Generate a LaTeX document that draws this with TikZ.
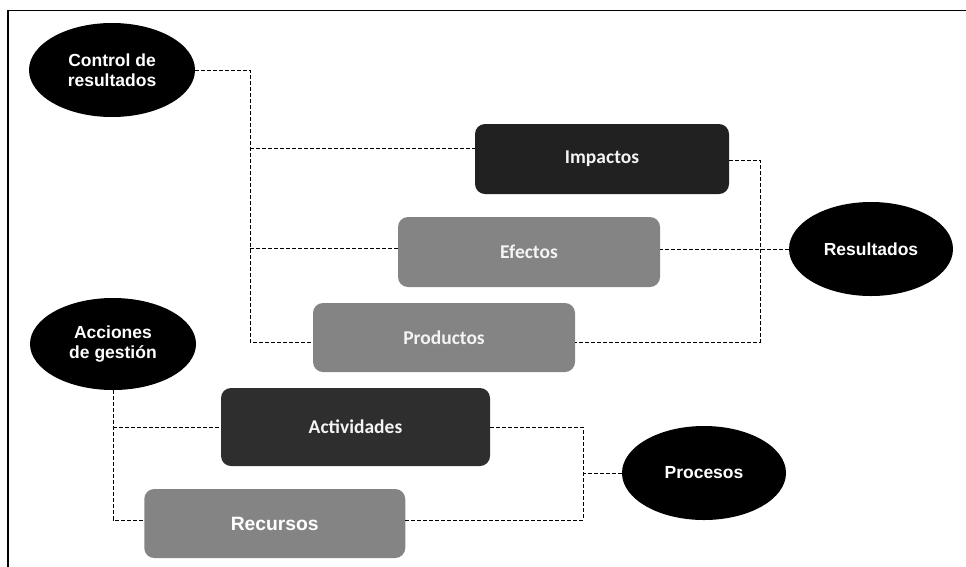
\documentclass[tikz,border=0pt]{standalone}
\usepackage{fontspec}
\setmainfont{Liberation Sans}
\newfontfamily\calibrifont{Carlito}
\usetikzlibrary{shapes.geometric}
\definecolor{darkbox}{HTML}{212121}
\definecolor{darkbox2}{HTML}{2E2E2E}
\definecolor{graybox}{HTML}{848484}
\definecolor{boxtext}{HTML}{F4F4F4}
\tikzset{
  oval/.style={ellipse, fill=black, text=white, inner sep=0pt, align=center,
    font=\bfseries\fontsize{17.5}{19.5}\selectfont},
  rbox/.style={rectangle, rounded corners=10pt, inner sep=0pt, text=boxtext,
    font=\calibrifont\bfseries\fontsize{19.5}{21}\selectfont},
  dl/.style={draw=black, line width=1pt, dash pattern=on 4pt off 2pt},
  frameline/.style={draw=black, line width=1.5pt}
}
\begin{document}
\begin{tikzpicture}[x=1pt,y=-1pt]
\useasboundingbox (0,0) rectangle (966,566);
% frame
\coordinate (fTL) at (8,10.5);
\coordinate (fTR) at (967,10.5);
\coordinate (fBL) at (8,567);
\draw[frameline] (fTR) -- (fTL) -- (fBL);

% ellipses
\node[oval, minimum width=166pt, minimum height=94pt] (ctrl) at (112,70) {Control de\\resultados};
\node[oval, minimum width=164pt, minimum height=94pt] (res) at (871,249) {Resultados};
\node[oval, minimum width=166pt, minimum height=92pt] (acc) at (113,344) {Acciones\\de gesti\'on};
\node[oval, minimum width=164pt, minimum height=94pt] (proc) at (704,473) {Procesos};

% boxes
\node[rbox, fill=darkbox, minimum width=254pt, minimum height=70pt] (imp) at (602,159) {\raisebox{-2pt}{Impactos}};
\node[rbox, fill=graybox, minimum width=262pt, minimum height=70pt] (efe) at (529,252) {\raisebox{-1pt}{Efectos}};
\node[rbox, fill=graybox, minimum width=262pt, minimum height=69pt] (pro) at (444,337.5) {\raisebox{-1pt}{Productos}};
\node[rbox, fill=darkbox2, minimum width=269pt, minimum height=78pt] (act) at (355.5,427) {\raisebox{-1pt}{Actividades}};
\node[rbox, fill=graybox, text=white, minimum width=261pt, minimum height=69pt,
  font=\bfseries\fontsize{19.3}{21}\selectfont] (rec) at (274.75,523.5) {Recursos};

% upper left bus
\coordinate (jL0) at (250,70);
\coordinate (jL1) at (250,148);
\coordinate (jL2) at (250,248);
\coordinate (jL3) at (250,342);
\draw[dl] (ctrl.east) -- (jL0) -- (jL3) -- (jL3 -| pro.west);
\draw[dl] (jL1) -- (jL1 -| imp.west);
\draw[dl] (jL2) -- (jL2 -| efe.west);

% upper right bus
\coordinate (jR1) at (760,160);
\coordinate (jR2) at (760,342);
\draw[dl] (jR1 -| imp.east) -- (jR1) -- (jR2) -- (jR2 -| pro.east);
\draw[dl] (res.west) -- (res.west -| efe.east);

% lower left bus
\coordinate (jA1) at (113,427);
\coordinate (jA2) at (113,520);
\draw[dl] (acc.south) -- (jA2) -- (jA2 -| rec.west);
\draw[dl] (jA1) -- (act.west);

% lower right bus
\coordinate (jP1) at (583,427);
\coordinate (jP2) at (583,520);
\draw[dl] (act.east) -- (jP1) -- (jP2) -- (jP2 -| rec.east);
\draw[dl] (proc.west) -- (proc.west -| jP1);
\end{tikzpicture}
\end{document}
